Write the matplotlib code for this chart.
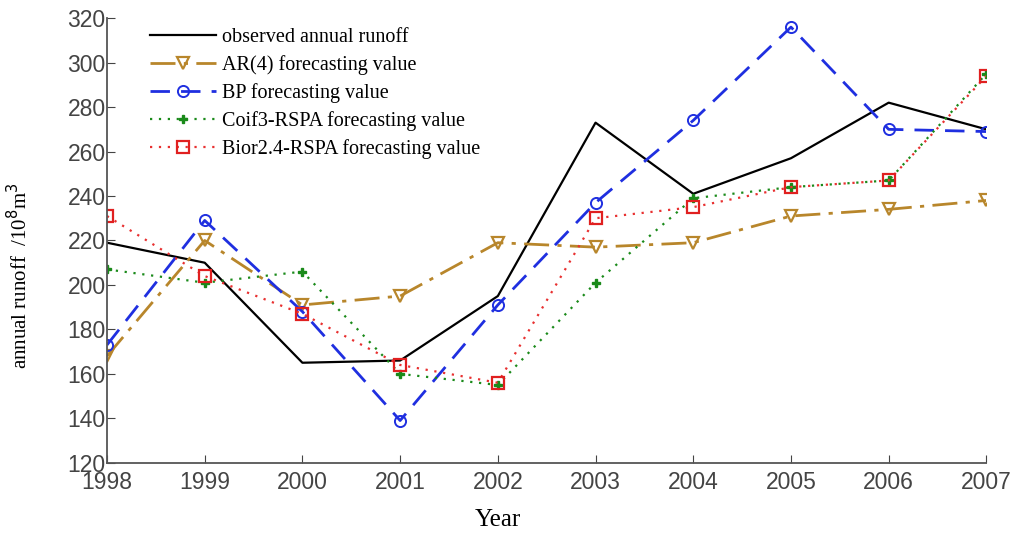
import matplotlib
matplotlib.use("Agg")
import matplotlib.pyplot as plt
from matplotlib.ticker import MultipleLocator

years = [1998, 1999, 2000, 2001, 2002, 2003, 2004, 2005, 2006, 2007]
observed = [219, 210, 165, 166, 195, 273, 241, 257, 282, 270]
ar4 = [168, 220, 191, 195, 219, 217, 219, 231, 234, 238]
bp = [173, 229, 188, 139, 191, 237, 274, 316, 270, 269]
coif3 = [207, 201, 206, 160, 155, 201, 239, 244, 247, 295]
bior24 = [231, 204, 187, 164, 156, 230, 235, 244, 247, 294]

labels = [
    "observed annual runoff",
    "AR(4) forecasting value",
    "BP forecasting value",
    "Coif3-RSPA forecasting value",
    "Bior2.4-RSPA forecasting value",
]

fig = plt.figure(figsize=(10.19, 5.35), dpi=100)
ax = fig.add_axes([0.105, 0.135, 0.863, 0.831])

ax.plot(years, observed, color="black", lw=1.6, label=labels[0])
ax.plot(years, ar4, color="#B8862B", lw=2.0, ls=(0, (9, 3, 1.5, 3)),
        marker="v", ms=9, mfc="none", mec="#B8862B", mew=1.6, label=labels[1])
ax.plot(years, bp, color="#1F2FE0", lw=2.0, ls=(0, (7, 4)),
        marker="o", ms=8, mfc="none", mec="#1F2FE0", mew=1.4, label=labels[2])
ax.plot(years, coif3, color="#1A8A1A", lw=1.6, ls=(0, (1, 3)),
        marker="P", ms=6, mfc="#1A8A1A", mec="#1A8A1A", label=labels[3])
ax.plot(years, bior24, color="#E83030", lw=1.6, ls=(0, (1, 3)),
        marker="s", ms=9, mfc="none", mec="#E02020", mew=1.6, label=labels[4])

ax.set_xlim(1998, 2007)
ax.set_ylim(120, 320)
ax.set_xticks(years)
ax.yaxis.set_major_locator(MultipleLocator(20))
ax.spines["top"].set_visible(False)
ax.spines["right"].set_visible(False)
ax.spines["left"].set_color("#555555")
ax.spines["bottom"].set_color("#555555")
ax.spines["left"].set_linewidth(1.3)
ax.spines["bottom"].set_linewidth(1.3)
ax.tick_params(direction="in", length=6, labelsize=16.5, labelcolor="#444444",
               color="#444444", pad=1)
ax.tick_params(axis="x", pad=6)
for t in ax.get_xticklabels() + ax.get_yticklabels():
    t.set_family(["Liberation Sans", "DejaVu Sans"])

serif = ["Liberation Serif", "DejaVu Serif"]
ax.set_xlabel("Year", fontsize=18, family=serif)
ax.xaxis.set_label_coords(0.445, -0.105)
ax.set_ylabel(r"annual runoff  /10$^8$m$^3$", fontsize=15, family=serif)
ax.yaxis.set_label_coords(-0.085, 0.42)

leg = ax.legend(loc="upper left", bbox_to_anchor=(0.035, 1.005), frameon=False,
                prop={"family": serif, "size": 14.5}, handlelength=3.3,
                handletextpad=0.3, labelspacing=0.4, borderaxespad=0.2)

fig.savefig("out.png", dpi=100)
